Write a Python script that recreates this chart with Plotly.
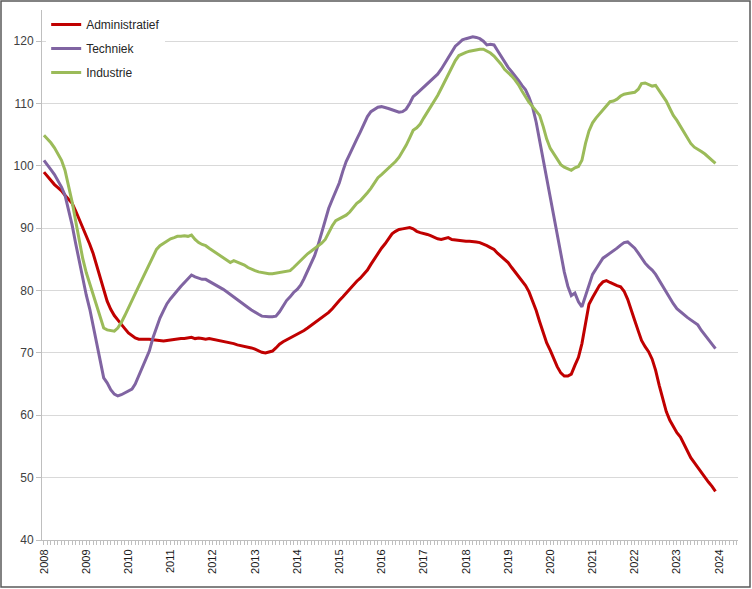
import pandas as pd
import plotly.graph_objects as go

months = pd.date_range("2008-01-01", periods=192, freq="MS")

administratief = [
    99.0, 98.3, 97.6, 97.0, 96.5, 96.0, 95.3, 94.6, 94.0, 92.8, 91.5, 90.2,
    88.8, 87.4, 86.0, 84.0, 82.0, 80.0, 78.3, 77.0, 76.0, 75.3, 74.5, 73.9,
    73.2, 72.7, 72.4, 72.2, 72.2, 72.3, 72.2, 72.1, 72.0, 72.0, 71.9, 72.0,
    72.1, 72.2, 72.2, 72.3, 72.3, 72.4, 72.5, 72.3, 72.4, 72.3, 72.2, 72.3,
    72.2, 72.1, 72.0, 71.9, 71.7, 71.6, 71.5, 71.3, 71.2, 71.0, 71.0, 70.8,
    70.6, 70.3, 70.1, 70.0, 70.1, 70.3, 70.8, 71.4, 71.8, 72.1, 72.4, 72.7,
    72.9, 73.2, 73.6, 74.0, 74.4, 74.8, 75.2, 75.6, 76.0, 76.5, 77.1, 77.8,
    78.4, 79.0, 79.6, 80.2, 80.9, 81.5, 82.0, 82.6, 83.3, 84.2, 85.1, 86.0,
    86.8, 87.5, 88.3, 89.1, 89.5, 89.8, 89.9, 90.0, 90.1, 89.9, 89.5, 89.3,
    89.2, 89.0, 88.8, 88.5, 88.3, 88.2, 88.4, 88.5, 88.2, 88.1, 88.0, 88.0,
    87.9, 87.9, 87.9, 87.8, 87.7, 87.5, 87.2, 86.9, 86.6, 86.0, 85.5, 85.0,
    84.5, 83.7, 83.0, 82.3, 81.6, 80.8, 79.8, 78.3, 76.8, 75.0, 73.2, 71.6,
    70.4, 69.0, 67.8, 66.8, 66.3, 66.3, 66.6, 68.0, 69.3, 71.5, 74.8, 77.8,
    78.9, 80.0, 80.8, 81.4, 81.6, 81.3, 81.0, 80.8, 80.6, 79.9, 78.6, 76.8,
    75.2, 73.5, 72.0, 71.0, 70.2, 69.0, 67.2, 64.8, 62.5, 60.6, 59.2, 58.2,
    57.2, 56.5, 55.4, 54.2, 53.2, 52.4, 51.6, 50.9, 50.1, 49.3, 48.6, 47.8,
]

techniek = [
    100.9, 100.2, 99.4, 98.6, 97.7, 96.6, 95.3, 93.0, 90.5, 87.6, 84.8, 81.8,
    79.3, 77.0, 74.3, 71.5, 68.6, 66.0, 65.2, 64.1, 63.4, 63.1, 63.3, 63.6,
    63.8, 64.2, 65.0, 66.3, 67.6, 69.0, 70.3, 72.4, 74.2, 75.6, 76.8, 77.9,
    78.7, 79.3, 80.0, 80.7, 81.3, 81.8, 82.5, 82.2, 82.0, 81.8, 81.8, 81.5,
    81.1, 80.8, 80.6, 80.2, 79.8, 79.4, 79.0, 78.5, 78.2, 77.8, 77.3, 76.9,
    76.5, 76.2, 75.9, 75.8, 75.8, 75.8, 75.9, 76.6, 77.6, 78.4, 79.0, 79.7,
    80.2, 80.9, 81.9, 83.1, 84.3, 85.6, 87.3, 89.3, 91.5, 93.2, 94.6, 95.9,
    97.3, 99.2, 100.7, 101.9, 103.2, 104.3, 105.4, 106.6, 107.9, 108.7, 109.1, 109.4,
    109.5, 109.4, 109.2, 109.0, 108.8, 108.6, 108.7, 109.1, 110.0, 111.1, 111.6, 112.1,
    112.6, 113.1, 113.7, 114.2, 114.7, 115.5, 116.4, 117.4, 118.4, 119.2, 119.7, 120.2,
    120.4, 120.6, 120.7, 120.6, 120.4, 120.0, 119.4, 119.5, 119.4, 118.5, 117.6, 116.6,
    115.8, 115.1, 114.5, 113.7, 112.9, 112.2, 111.0, 109.4, 107.0, 104.0, 100.9, 97.8,
    94.5, 91.5, 88.8, 86.0, 83.0, 80.7, 79.2, 79.6, 78.2, 77.4, 79.2, 81.2,
    82.6, 83.5, 84.4, 85.2, 85.6, 86.0, 86.3, 86.8, 87.3, 87.7, 87.8, 87.3,
    86.8, 86.0, 85.2, 84.4, 83.8, 83.3, 82.6, 81.6, 80.6, 79.7, 78.8, 77.9,
    77.1, 76.6, 76.1, 75.7, 75.3, 74.9, 74.5, 73.6, 72.9, 72.2, 71.5, 70.7,
]

industrie = [
    104.9, 104.3, 103.7, 102.9, 102.0, 100.9, 99.3, 96.8, 94.2, 91.2, 88.2, 85.2,
    82.9, 81.0, 79.5, 77.6, 75.7, 74.0, 73.7, 73.6, 73.5, 74.0, 74.9, 76.0,
    77.3, 78.4, 79.5, 80.7, 81.9, 83.0, 84.2, 85.5, 86.6, 87.2, 87.6, 88.0,
    88.3, 88.5, 88.7, 88.7, 88.8, 88.7, 88.9, 88.2, 87.7, 87.4, 87.2, 86.8,
    86.4, 86.0, 85.7, 85.3, 84.8, 84.5, 84.8, 84.6, 84.4, 84.1, 83.7, 83.4,
    83.2, 83.0, 82.9, 82.8, 82.7, 82.7, 82.8, 82.8, 82.9, 83.0, 83.2, 83.7,
    84.3, 84.8, 85.4, 85.9, 86.3, 86.7, 87.2, 87.6, 88.2, 89.3, 90.4, 91.2,
    91.5, 91.8, 92.1, 92.6, 93.3, 94.0, 94.4, 95.0, 95.7, 96.4, 97.2, 98.1,
    98.6, 99.1, 99.7, 100.1, 100.7, 101.4, 102.3, 103.3, 104.5, 105.7, 106.1, 106.7,
    107.7, 108.6, 109.4, 110.3, 111.3, 112.4, 113.5, 114.8, 116.0, 116.9, 117.7, 118.0,
    118.2, 118.4, 118.5, 118.6, 118.7, 118.7, 118.4, 118.1, 117.6, 117.0, 116.3, 115.5,
    115.0, 114.4, 113.8, 113.0, 112.0, 111.0, 110.2, 109.5, 108.8, 108.1, 106.3, 104.3,
    102.8, 101.9, 101.0, 100.2, 99.8, 99.6, 99.3, 99.7, 99.9, 100.9, 103.6, 105.6,
    106.9, 107.7, 108.3, 108.9, 109.6, 110.3, 110.4, 110.7, 111.2, 111.5, 111.6, 111.7,
    111.8, 112.3, 113.2, 113.3, 113.1, 112.8, 112.9, 112.1, 111.3, 110.4, 109.2, 108.1,
    107.3, 106.3, 105.4, 104.5, 103.6, 103.0, 102.7, 102.3, 101.9, 101.4, 100.9, 100.4,
]

year_ticks = [f"{y}-01-01" for y in range(2008, 2025)]
year_labels = [str(y) for y in range(2008, 2025)]

series = [
    ("Administratief", administratief, "#C00000"),
    ("Techniek", techniek, "#8064A2"),
    ("Industrie", industrie, "#9BBB59"),
]

fig = go.Figure()
for name, vals, col in series:
    fig.add_trace(go.Scatter(
        x=months, y=vals, name=name, mode="lines",
        line=dict(color=col, width=3), legendgroup=name,
    ))

axis_font = dict(family="Liberation Sans, Arial, sans-serif", size=12, color="#404040")

fig.update_layout(
    width=752, height=589,
    margin=dict(l=42, r=14, t=10, b=49),
    paper_bgcolor="white", plot_bgcolor="white",
    font=axis_font,
    legend=dict(
        x=0.006, y=1.0, xanchor="left", yanchor="top",
        bgcolor="white", font=dict(size=12, color="#262626"),
        tracegroupgap=5,
    ),
    xaxis=dict(
        range=["2007-12-15", "2024-06-13"],
        tickvals=year_ticks, ticktext=year_labels, tickangle=-90,
        tickfont=dict(family="Liberation Sans, Arial, sans-serif", size=11, color="#1a1a1a"),
        showgrid=False, showline=True, linecolor="#bfbfbf", linewidth=1,
        ticks="outside", ticklen=4, tickcolor="#bfbfbf",
        minor=dict(dtick="M1", ticks="outside", ticklen=4, tickcolor="#bfbfbf", showgrid=False),
        zeroline=False, automargin=False,
    ),
    yaxis=dict(
        range=[40, 125], tickvals=list(range(40, 121, 10)),
        showgrid=True, gridcolor="#d9d9d9", gridwidth=1,
        showline=True, linecolor="#bfbfbf", linewidth=1,
        ticks="outside", ticklen=5, tickcolor="#bfbfbf",
        zeroline=False, automargin=False,
    ),
    shapes=[dict(
        type="rect", xref="paper", yref="paper",
        x0=-41.0 / 696, x1=708.0 / 696, y0=-47.0 / 530, y1=539.0 / 530,
        line=dict(color="#595959", width=1.5), fillcolor="rgba(0,0,0,0)", layer="above",
    )],
)

fig.write_html(
    "out.html",
    config={"displayModeBar": False},
    post_script="document.body.style.margin='0';document.body.style.padding='0';",
)
